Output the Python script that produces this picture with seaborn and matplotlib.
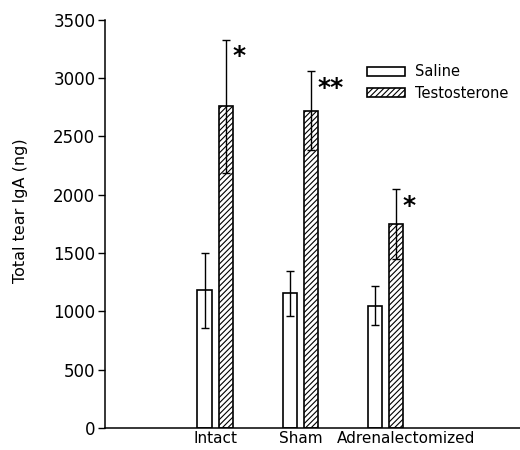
import numpy as np
import pandas as pd
import matplotlib
matplotlib.use('Agg')
import matplotlib.pyplot as plt
import matplotlib.transforms as mtransforms
import seaborn as sns

# Data (mean and SEM, ng)
groups = ['Intact', 'Sham', 'Adrenalectomized']
treatments = ['Saline', 'Testosterone']
saline_mean = [1180, 1155, 1050]
saline_err = [320, 195, 170]
testo_mean = [2760, 2720, 1750]
testo_err = [570, 340, 300]
stars = ['*', '**', '*']

df = pd.DataFrame({
    'group': groups * 2,
    'treatment': [treatments[0]] * 3 + [treatments[1]] * 3,
    'iga': saline_mean + testo_mean,
    'err': saline_err + testo_err,
})

sns.set_style('ticks', rc={'text.color': 'black', 'axes.labelcolor': 'black',
                           'xtick.color': 'black', 'ytick.color': 'black',
                           'axes.edgecolor': 'black'})
plt.rcParams['font.family'] = ['DejaVu Sans']
plt.rcParams['hatch.linewidth'] = 0.8

fig = plt.figure(figsize=(5.2, 4.5), dpi=100)
ax = fig.add_axes([0.202, 0.049, 0.798, 0.907])

sns.barplot(data=df, x='group', y='iga', hue='treatment', order=groups,
            hue_order=treatments, width=0.494, gap=0.33, errorbar=None,
            palette=['white', 'white'], edgecolor='black',
            linewidth=1.2, legend=False, ax=ax)

bar_sets = list(ax.containers)
errs = [saline_err, testo_err]
means = [saline_mean, testo_mean]
for k, cont in enumerate(bar_sets):
    xs = [p.get_x() + p.get_width() / 2 for p in cont]
    if k == 1:
        for p in cont:
            p.set_hatch('//////')
    ax.errorbar(xs, means[k], yerr=errs[k], fmt='none', ecolor='black',
                elinewidth=1.0, capsize=3, capthick=1.0, zorder=3)
    if k == 1:
        for x, m, e, s in zip(xs, means[k], errs[k], stars):
            ax.text(x + 0.075, m + e - 40, s, ha='left', va='top',
                    fontsize=18, fontweight='bold', clip_on=False)

ax.set_ylim(0, 3500)
ax.set_xlim(-1.29, 3.575)
ax.set_yticks(np.arange(0, 3501, 500))
ax.tick_params(axis='y', direction='out', length=5, width=1, labelsize=12, pad=2)
ax.tick_params(axis='x', length=0, labelsize=11, pad=2.5)
ax.set_xlabel('')
ax.set_ylabel('Total tear IgA (ng)', fontsize=11.5)
ax.yaxis.set_label_coords(-0.185, 0.533)
sns.despine(ax=ax)
for s in ['left', 'bottom']:
    ax.spines[s].set_linewidth(1.1)

# the last label sits to the right of its bars in the original
lab = ax.get_xticklabels()[2]
lab.set_transform(lab.get_transform() +
                  mtransforms.ScaledTranslation(0.2, 0, fig.dpi_scale_trans))

handles = [bar_sets[0][0], bar_sets[1][0]]
ax.legend(handles, treatments, frameon=False, fontsize=10.5,
          loc='upper left', bbox_to_anchor=(0.617, 0.905),
          handlelength=2.6, handleheight=0.55, labelspacing=0.45,
          handletextpad=0.7, borderaxespad=0)

fig.savefig('out.png', dpi=100)
